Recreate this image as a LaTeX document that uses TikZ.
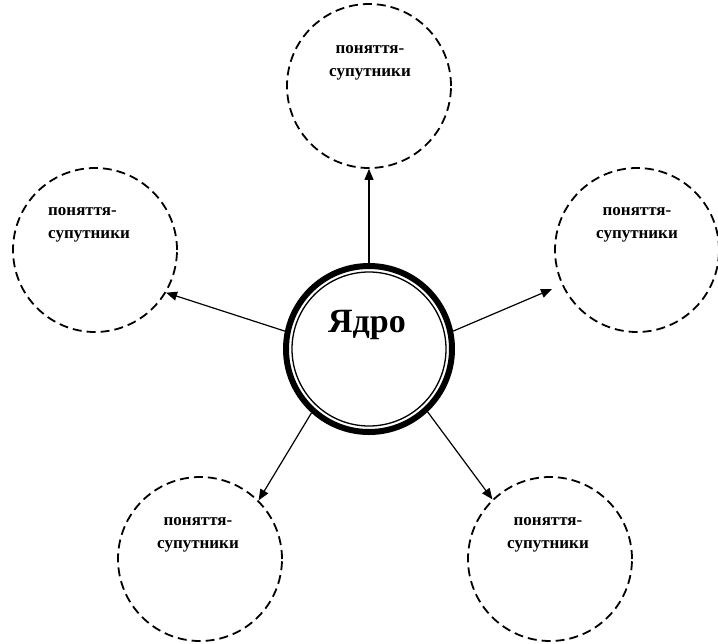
\documentclass[tikz,border=0pt]{standalone}
\usepackage{fontspec}
\setmainfont{Liberation Serif}
\usetikzlibrary{arrows.meta}
\begin{document}
\begin{tikzpicture}[x=1pt,y=-1pt,
  satellite/.style={circle,draw,line width=1.8pt,dash pattern=on 9pt off 5pt,
    minimum size=164pt,inner sep=0pt},
  satlabel/.style={font=\bfseries\fontsize{17}{23}\selectfont,align=center,
    anchor=base,inner sep=0pt},
  link/.style={line width=1.2pt,-{Triangle[length=11pt,width=9pt]}}
]
\useasboundingbox (0,0) rectangle (718,643);

% central concept: heavy ring with a thin inner ring
\node[circle,draw,line width=6pt,minimum size=166pt,inner sep=0pt] (core) at (369,349) {};
\node[circle,draw,line width=1.3pt,minimum size=154pt,inner sep=0pt] (coreinner) at (core.center) {};
\node[font=\bfseries\fontsize{34}{40}\selectfont,anchor=base,inner sep=0pt] (coretext) at (367,332) {Ядро};

% satellite concepts
\node[satellite] (sT)  at (369,86)  {};
\node[satellite] (sL)  at (95,250)  {};
\node[satellite] (sR)  at (637,250) {};
\node[satellite] (sBL) at (200,559) {};
\node[satellite] (sBR) at (550,559) {};

% labels (anchored at the baseline of the second line)
\node[satlabel] (tT)  at (370,76)  {поняття-\\супутники};
\node[satlabel,align=left,anchor=base west] (tL) at (48,238) {поняття-\\супутники};
\node[satlabel] (tR)  at (637,238) {поняття-\\супутники};
\node[satlabel] (tBL) at (198,548) {поняття-\\супутники};
\node[satlabel] (tBR) at (548,548) {поняття-\\супутники};

% links from the core
\coordinate (tipR) at (552,289);
\draw[link] (core.90)   -- (sT.270);
\draw[link] (core.168)  -- (sL.329);
\draw[link] (core.12.5) -- (tipR);
\draw[link] (core.228)  -- (sBL.45.5);
\draw[link] (core.313)  -- (sBR.134);
\end{tikzpicture}
\end{document}
